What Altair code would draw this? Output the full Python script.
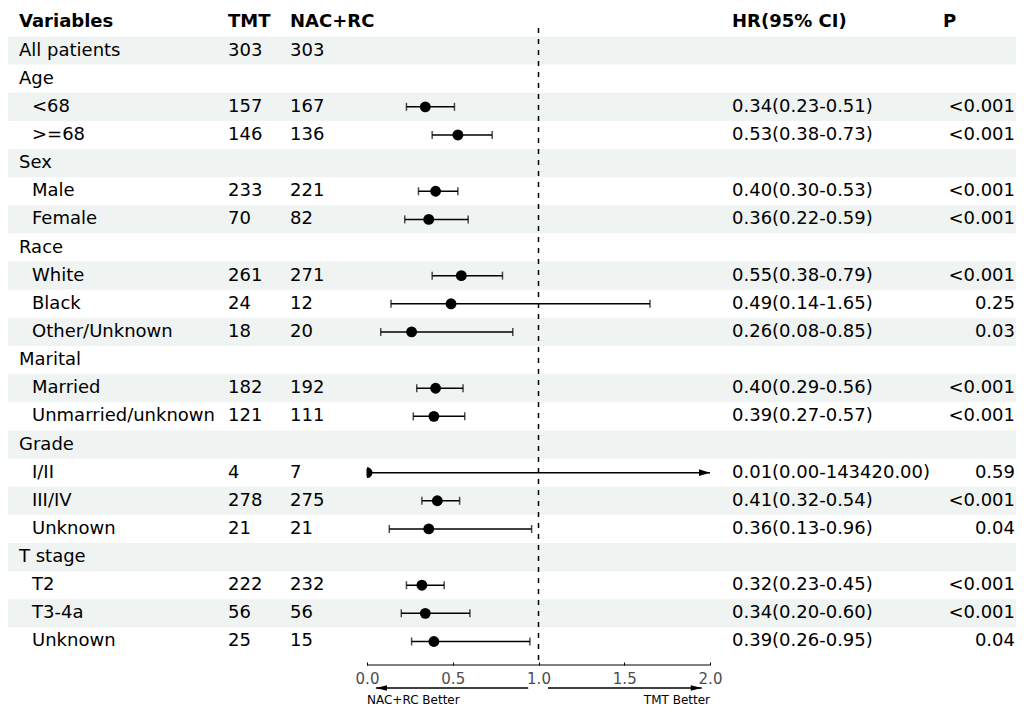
import altair as alt
import pandas as pd

# ---------------- data ----------------
variables = ["All patients", "Age", "<68", ">=68", "Sex", "Male", "Female",
             "Race", "White", "Black", "Other/Unknown", "Marital", "Married",
             "Unmarried/unknown", "Grade", "I/II", "III/IV", "Unknown",
             "T stage", "T2", "T3-4a", "Unknown"]
level = [0, 0, 1, 1, 0, 1, 1, 0, 1, 1, 1, 0, 1, 1, 0, 1, 1, 1, 0, 1, 1, 1]
tmt = ["303", "", "157", "146", "", "233", "70", "", "261", "24", "18", "",
       "182", "121", "", "4", "278", "21", "", "222", "56", "25"]
nac_rc = ["303", "", "167", "136", "", "221", "82", "", "271", "12", "20", "",
          "192", "111", "", "7", "275", "21", "", "232", "56", "15"]
hr = [None, None, 0.34, 0.53, None, 0.40, 0.36, None, 0.55, 0.49, 0.26, None,
      0.40, 0.39, None, 0.01, 0.41, 0.36, None, 0.32, 0.34, 0.39]
hr_lo = [None, None, 0.23, 0.38, None, 0.30, 0.22, None, 0.38, 0.14, 0.08, None,
         0.29, 0.27, None, 0.00, 0.32, 0.13, None, 0.23, 0.20, 0.26]
hr_hi = [None, None, 0.51, 0.73, None, 0.53, 0.59, None, 0.79, 1.65, 0.85, None,
         0.56, 0.57, None, 143420.00, 0.54, 0.96, None, 0.45, 0.60, 0.95]
p_val = ["", "", "<0.001", "<0.001", "", "<0.001", "<0.001", "", "<0.001",
         "0.25", "0.03", "", "<0.001", "<0.001", "", "0.59", "<0.001", "0.04",
         "", "<0.001", "<0.001", "0.04"]

headers = ["Variables", "TMT", "NAC+RC", "HR(95% CI)", "P"]
axis_ticks = [0.0, 0.5, 1.0, 1.5, 2.0]
ref_value = 1.0
better_labels = ["NAC+RC Better", "TMT Better"]
arrow_from = [0.94, 1.055]
arrow_to = [0.052, 1.952]

# ---------------- table ----------------
XMIN, XMAX = 0.0, 2.0
rows = []
for i, v in enumerate(variables):
    h, lo, hi = hr[i], hr_lo[i], hr_hi[i]
    txt = "" if h is None else f"{h:.2f}({lo:.2f}-{hi:.2f})"
    rows.append(dict(row=i + 1, var=v, level=level[i], tmt=tmt[i], nac=nac_rc[i],
                     hr=h, lo=lo, hi=hi,
                     hi_plot=None if hi is None else min(hi, XMAX),
                     arrow=(hi is not None and hi > XMAX),
                     half=(h is not None and h < 0.03),
                     p=p_val[i], hrtxt=txt, odd=((i + 1) % 2 == 1)))
df = pd.DataFrame(rows)
df_ci = df[df["hr"].notna()].copy()
df_full = df_ci[~df_ci["half"]]
df_half = df_ci[df_ci["half"]]
df_lcap = df_ci[df_ci["lo"] >= XMIN]
df_rcap = df_ci[~df_ci["arrow"]]
df_arrow = df_ci[df_ci["arrow"]]
df_head = pd.DataFrame({"txt": headers, "row": [0] * len(headers),
                        "col": list(range(len(headers)))})
df_bands = df[df["odd"]]

# ---------------- geometry ----------------
W, H = 1008, 654
PX_PER_UNIT = 171.5
X0 = 359.0
xs = alt.Scale(domain=[-X0 / PX_PER_UNIT, (W - X0) / PX_PER_UNIT], nice=False, zero=False)
ROW0, STEP = 14.4, 28.14
ys = alt.Scale(domain=[-ROW0 / STEP, (H - ROW0) / STEP], nice=False, zero=False, reverse=True)

xa = alt.Axis(values=axis_ticks, domain=False, grid=False, tickSize=3, tickWidth=1,
              tickColor="black", labelFontSize=15, labelColor="#4d4d4d",
              labelPadding=6, format=".1f", title=None, labelFont="DejaVu Sans")


def X(field):
    return alt.X(field, type="quantitative", scale=xs, axis=xa)


Y = alt.Y("row:Q", scale=ys, axis=None)

FONT = "DejaVu Sans"
FS = 18
ARROW_Y = 680
LABEL_Y = 692

bands = alt.Chart(df_bands).transform_calculate(
    r0="datum.row - 0.5", r1="datum.row + 0.5"
).mark_rect(color="#eff3f2").encode(
    x=alt.value(0), x2=alt.value(W),
    y=alt.Y("r0:Q", scale=ys, axis=None), y2="r1:Q")

refline = alt.Chart(pd.DataFrame({"v": [ref_value]})).mark_rule(
    color="black", strokeDash=[5, 6], strokeWidth=1.5).encode(
    x=X("v"), y=alt.value(20), y2=alt.value(657))

axisline = alt.Chart(pd.DataFrame({"a": [XMIN], "b": [XMAX]})).mark_rule(
    color="black", strokeWidth=1).encode(x=X("a"), x2="b", y=alt.value(657))

ci = alt.Chart(df_ci).mark_rule(color="black", strokeWidth=1.5).encode(
    x=X("lo"), x2="hi_plot", y=Y)

lcap = alt.Chart(df_lcap).mark_tick(color="black", orient="vertical", size=8,
                                     thickness=1.5).encode(x=X("lo"), y=Y)
rcap = alt.Chart(df_rcap).mark_tick(color="black", orient="vertical", size=8,
                                     thickness=1.5).encode(x=X("hi_plot"), y=Y)

pts = alt.Chart(df_full).mark_point(shape="circle", filled=True, color="black",
                                    size=118, opacity=1).encode(x=X("hr"), y=Y)
half = alt.Chart(df_half).mark_point(shape="M 0 -1 A 1 1 0 0 1 0 1 Z", filled=True,
                                     color="black", size=118, opacity=1).encode(
    x=X("lo"), y=Y)
ahead = alt.Chart(df_arrow).mark_point(shape="M 0 0 L -2 -0.6 L -2 0.6 Z", filled=True,
                                       color="black", size=121, opacity=1).encode(
    x=X("hi_plot"), y=Y)

base_txt = dict(font=FONT, fontSize=FS, color="black", baseline="middle")
t_var0 = alt.Chart(df[df["level"] == 0]).mark_text(align="left", **base_txt).encode(
    x=alt.value(11), y=Y, text="var:N")
t_var1 = alt.Chart(df[df["level"] == 1]).mark_text(align="left", **base_txt).encode(
    x=alt.value(24), y=Y, text="var:N")
t_tmt = alt.Chart(df).mark_text(align="left", **base_txt).encode(
    x=alt.value(220), y=Y, text="tmt:N")
t_nac = alt.Chart(df).mark_text(align="left", **base_txt).encode(
    x=alt.value(282), y=Y, text="nac:N")
t_hr = alt.Chart(df).mark_text(align="left", **base_txt).encode(
    x=alt.value(724), y=Y, text="hrtxt:N")
t_p = alt.Chart(df).mark_text(align="right", **base_txt).encode(
    x=alt.value(1007), y=Y, text="p:N")

head_x = [11, 220, 282, 724, 935]
head_layers = []
for k, hx in enumerate(head_x):
    head_layers.append(
        alt.Chart(df_head[df_head["col"] == k]).mark_text(
            align="left", fontWeight="bold", **base_txt).encode(
            x=alt.value(hx), y=Y, text="txt:N"))

df_arr = pd.DataFrame({"a": arrow_from, "b": arrow_to, "side": ["L", "R"]})
arr_lines = alt.Chart(df_arr).mark_rule(color="black", strokeWidth=1.5).encode(
    x=X("a"), x2="b", y=alt.value(ARROW_Y))
arr_l = alt.Chart(df_arr[df_arr["side"] == "L"]).mark_point(
    shape="M 0 0 L 2 -0.5 L 2 0.5 Z", filled=True, color="black", size=121,
    opacity=1).encode(x=X("b"), y=alt.value(ARROW_Y))
arr_r = alt.Chart(df_arr[df_arr["side"] == "R"]).mark_point(
    shape="M 0 0 L -2 -0.5 L -2 0.5 Z", filled=True, color="black", size=121,
    opacity=1).encode(x=X("b"), y=alt.value(ARROW_Y))

df_lab = pd.DataFrame({"txt": better_labels, "pos": [XMIN, XMAX]})
lab_l = alt.Chart(df_lab.iloc[[0]]).mark_text(
    align="left", baseline="middle", font=FONT, fontSize=12, color="black").encode(
    x=X("pos"), y=alt.value(LABEL_Y), text="txt:N")
lab_r = alt.Chart(df_lab.iloc[[1]]).mark_text(
    align="right", baseline="middle", font=FONT, fontSize=12, color="black").encode(
    x=X("pos"), y=alt.value(LABEL_Y), text="txt:N")

chart = alt.layer(
    bands, refline, axisline, ci, lcap, rcap, pts, half, ahead,
    t_var0, t_var1, t_tmt, t_nac, t_hr, t_p, *head_layers,
    arr_lines, arr_l, arr_r, lab_l, lab_r
).properties(
    width=W, height=H,
    autosize=alt.AutoSizeParams(type="none"),
    padding={"left": 0, "top": 0, "right": 0, "bottom": 45},
    background="white"
).configure(font=FONT).configure_view(stroke="transparent", strokeWidth=0)

chart.save("out.html", embed_options={"renderer": "svg", "actions": False})
